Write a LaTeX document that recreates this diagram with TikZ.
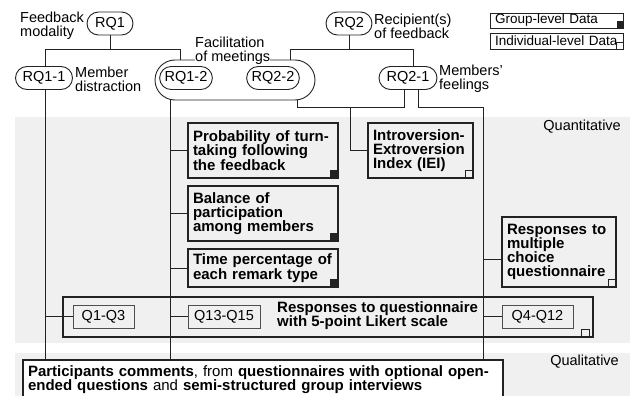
\documentclass[tikz,border=0pt]{standalone}
\usepackage{fontspec}
\setmainfont{Liberation Sans}
\usetikzlibrary{positioning}

\definecolor{band}{HTML}{F0F0F0}
\definecolor{ink}{HTML}{222222}
\newcommand{\fsz}{\fontsize{14.5}{14}\selectfont}
\newcommand{\bsz}{\fontsize{15}{14}\selectfont\bfseries}

\begin{document}
\begin{tikzpicture}[x=1pt,y=-1pt,
  tree/.style={draw=ink, line width=0.8pt},
  rq/.style={draw=ink, line width=0.9pt, rounded corners=11.5pt, minimum height=23pt, inner xsep=5pt, inner ysep=0pt, fill=white, font=\fsz},
  lbl/.style={align=left, inner sep=0pt, font=\fsz},
  databox/.style={draw=ink, line width=1.5pt, anchor=north west, align=left, inner xsep=5pt, inner ysep=0pt, outer sep=0pt, font=\bsz},
  qbox/.style={draw=ink!80, line width=0.8pt, minimum height=23pt, inner xsep=6pt, inner ysep=0pt, font=\fsz},
  legend/.style={draw=ink, line width=0.8pt, minimum width=133pt, minimum height=15pt, inner xsep=5pt, inner ysep=0pt, outer sep=0pt, text width=123pt, align=left, font=\fontsize{13.5}{14}\selectfont}]
\useasboundingbox (0,0) rectangle (630,396);
\clip (0,0) rectangle (630,396);

% bands
\fill[band] (15,117) rectangle (630,343);
\fill[band] (15,353) rectangle (630,396);
\node[lbl, anchor=east] (quant) at (621,127) {Quantitative};
\node[lbl, anchor=east] (qual) at (619,362) {Qualitative};

% research questions
\node[rq, minimum width=46pt] (rq1) at (110,23.5) {RQ1};
\node[rq, minimum width=46pt] (rq2) at (349,23.5) {RQ2};
\node[rq, minimum width=57pt] (rq11) at (44,78) {RQ1-1};
\node[draw=ink, line width=0.9pt, rounded corners=20pt, minimum width=160pt, minimum height=40pt] (facil) at (235,80) {};
\node[rq, minimum width=50pt] (rq12) at (186,78) {RQ1-2};
\node[rq, minimum width=52pt] (rq22) at (273,78) {RQ2-2};
\node[rq, minimum width=58pt] (rq21) at (408,78) {RQ2-1};

\node[lbl, anchor=west] (fbmod) at (20,26) {Feedback\\modality};
\node[lbl, anchor=west] (distr) at (75,79.5) {Member\\distraction};
\node[lbl, anchor=west, fill=white] (facillbl) at (195,51) {Facilitation\\of meetings};
\node[lbl, anchor=west] (recip) at (374,26) {Recipient(s)\\of feedback};
\node[lbl, anchor=west] (feel) at (439,79) {Members'\\feelings};

% legend
\node[legend] (grp) at (556.5,20.5) {Group-level Data};
\node[legend, minimum height=16pt] (ind) at (556.5,41) {Individual-level Data};

% data
\node[databox, text width=140pt, minimum height=55pt] (turn) at (188,123) {Probability of turn-\\taking following\\the feedback};
\node[databox, text width=140pt, minimum height=55pt] (bal) at (188,186) {Balance of\\participation\\among members};
\node[databox, text width=140pt, minimum height=38pt] (time) at (188,249) {Time percentage of\\each remark type};
\node[databox, text width=95pt, minimum height=55pt] (iei) at (368,123) {Introversion-\\Extroversion\\Index (IEI)};
\node[databox, text width=104pt, minimum height=70pt] (mcq) at (502,217) {Responses to\\multiple\\choice\\questionnaire};

\node[draw=ink, line width=1.5pt, anchor=north west, minimum width=530pt, minimum height=40pt, inner sep=0pt, outer sep=0pt] (likert) at (63,297) {};
\node[lbl, anchor=west, font=\bsz] (likertlbl) at (277,316) {Responses to questionnaire\\with 5-point Likert scale};
\node[qbox, minimum width=61pt] (q1) at (103.5,316.5) {Q1-Q3};
\node[qbox, minimum width=72pt] (q13) at (224,316.5) {Q13-Q15};
\node[qbox, minimum width=71pt] (q4) at (537.5,316.5) {Q4-Q12};

\node[databox, font=\fontsize{15}{14}\selectfont, fill=white, text width=470pt, inner ysep=6pt] (part) at (23,360) {\textbf{Participants comments}, from \textbf{questionnaires with optional open-}\\\textbf{ended questions} and \textbf{semi-structured group interviews}};

% corner marks
\foreach \n in {turn,bal,time}
  \fill[ink] (\n.south east) rectangle ++(-8pt,8pt);
\foreach \n in {iei,mcq}
  \draw[ink, line width=0.8pt] (\n.south east) rectangle ++(-8pt,8pt);
\draw[ink, line width=0.8pt] ([xshift=-4pt]likert.south east) rectangle ++(-8pt,8pt);
\fill[ink] (grp.south east) rectangle ++(-6.5pt,6.5pt);
\draw[ink, line width=0.8pt] (ind.south east) rectangle ++(-6.5pt,6.5pt);

% RQ1 and RQ2
\draw[tree] (rq1.south) -- ++(0,14) coordinate (j1) -| ([xshift=1pt]rq11.north);
\draw[tree] (j1) -| ([xshift=-55pt]facil.north);
\draw[tree] (rq2.south) -- ++(0,14) coordinate (j2) -| ([xshift=5pt]rq21.north);
\draw[tree] (j2) -| ([xshift=55pt]facil.north);

% down to the data
\coordinate (busA) at ([xshift=1pt]rq11.south);
\draw[tree] (busA) -- (busA |- part.north);
\draw[tree] (q1.west) -- (q1.west -| busA);

\coordinate (busB) at ([xshift=-65pt]facil.south);
\draw[tree] (busB) -- (busB |- part.north);
\foreach \n in {turn,bal,time,q13}
  \draw[tree] (\n.west) -- (\n.west -| busB);

\coordinate (busI) at ([xshift=62pt]facil.south);
\draw[tree] (busI) -- ++(0,7) coordinate (j3) -| ([xshift=-4pt]rq21.south);
\draw[tree] (iei.west) -- ++(-18,0) |- (j3);

\coordinate (busM) at (483,107);
\coordinate (mcqin) at ([yshift=-7pt]mcq.west);
\draw[tree] ([xshift=10pt]rq21.south) |- (busM) -- (busM |- part.north);
\draw[tree] (mcqin) -- (mcqin -| busM);
\draw[tree] (q4.west) -- (q4.west -| busM);
\end{tikzpicture}
\end{document}
